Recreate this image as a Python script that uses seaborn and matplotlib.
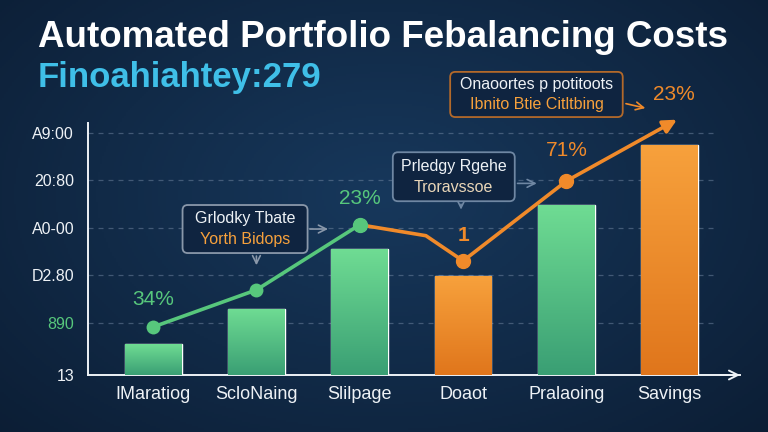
import numpy as np
import matplotlib
matplotlib.use("Agg")
import matplotlib.pyplot as plt
import seaborn as sns
from matplotlib.colors import LinearSegmentedColormap, to_rgb
from matplotlib.patches import FancyBboxPatch

# ---------------- data ----------------
categories = ["IMaratiog", "ScloNaing", "Slilpage", "Doaot", "Pralaoing", "Savings"]
bar_values = [0.65, 1.39, 2.65, 2.08, 3.58, 4.84]
bar_kinds = ["g", "g", "g", "o", "g", "o"]

green_x = [0, 1, 2]
green_y = [1.01, 1.79, 3.16]
orange_x = [2, 2.64, 3, 4]
orange_y = [3.16, 2.93, 2.40, 4.08]
arrow_end = (5.07, 5.37)

point_labels = ["34%", "23%", "1", "71%", "23%"]

ytick_vals = [0, 1.1, 2.1, 3.1, 4.1, 5.1]
ytick_labels = ["13", "890", "D2.80", "A0-00", "20:80", "A9:00"]

title = "Automated Portfolio Febalancing Costs"
subtitle = "Finoahiahtey:279"

box_texts = [("Grlodky Tbate", "Yorth Bidops"),
             ("Prledgy Rgehe", "Troravssoe"),
             ("Onaoortes p potitoots", "Ibnito Btie Citltbing")]

# ---------------- style ----------------
GREEN = "#5cd08a"
GREEN_D = "#3a9f74"
GREEN_L = "#6fdc93"
ORANGE = "#f08a2a"
ORANGE_L = "#f7a13c"
ORANGE_D = "#e0761c"
LINE_G = "#57c77c"
WHITE = "#eef2f6"

sns.set_theme(style="dark")
plt.rcParams["font.family"] = ["Liberation Sans", "DejaVu Sans"]

fig = plt.figure(figsize=(7.68, 4.32), dpi=100)

# background gradient
bg = fig.add_axes([0, 0, 1, 1], zorder=0)
yy, xx = np.mgrid[0:1:216j, 0:1:384j]
r = np.sqrt(((xx - 0.5) / 0.75) ** 2 + ((yy - 0.45) / 0.85) ** 2)
r = np.clip(r, 0, 1)
c_in = np.array(to_rgb("#17385c"))
c_out = np.array(to_rgb("#0b1c32"))
img = c_in[None, None, :] * (1 - r[..., None]) + c_out[None, None, :] * r[..., None]
bg.imshow(img, extent=[0, 1, 0, 1], aspect="auto", origin="upper")
bg.set_axis_off()

ax = fig.add_axes([88 / 768, 57 / 432, 652 / 768, 252 / 432], zorder=1)
ax.set_facecolor("none")

colors = [GREEN if k == "g" else ORANGE for k in bar_kinds]
sns.barplot(x=categories, y=bar_values, hue=categories, palette=colors,
            legend=False, width=0.55, ax=ax, saturation=1, zorder=3)

# gradient fill of bars
for patch, k in zip(ax.patches, bar_kinds):
    x0, y0 = patch.get_x(), patch.get_y()
    w, h = patch.get_width(), patch.get_height()
    top, bot = (GREEN_L, GREEN_D) if k == "g" else (ORANGE_L, ORANGE_D)
    cmap = LinearSegmentedColormap.from_list("g", [bot, top])
    grad = np.linspace(0, 1, 100).reshape(-1, 1)
    im = ax.imshow(grad, cmap=cmap, extent=[x0, x0 + w, y0, y0 + h],
                   origin="lower", aspect="auto", zorder=3.5)
    im.set_clip_path(patch)

ax.set_xlim(-0.63, 5.68)
ax.set_ylim(0, 5.3)

# grid lines
for v in ytick_vals[1:]:
    ax.axhline(v, xmin=0, xmax=0.965, color="#7388a3", lw=0.9, alpha=0.5,
               ls=(0, (4, 4)), zorder=1)

# lines
sns.lineplot(x=green_x, y=green_y, color=LINE_G, lw=2.6, marker="o",
             markersize=10, markeredgewidth=0, sort=False, ax=ax, zorder=5)
sns.lineplot(x=orange_x, y=orange_y, color=ORANGE, lw=2.6, sort=False,
             ax=ax, zorder=5)
ax.plot([orange_x[2], orange_x[3]], [orange_y[2], orange_y[3]], "o",
        color=ORANGE, markersize=10, zorder=6)
ax.plot([green_x[2]], [green_y[2]], "o", color=LINE_G, markersize=10, zorder=6)
ax.annotate("", xy=arrow_end, xytext=(orange_x[-1], orange_y[-1]),
            arrowprops=dict(arrowstyle="-|>", color=ORANGE, lw=2.6,
                            mutation_scale=20, shrinkA=0, shrinkB=0),
            zorder=5, annotation_clip=False)

# point labels
lab_pts = [(green_x[0], green_y[0], LINE_G, (0, 20)),
           (green_x[2], green_y[2], LINE_G, (0, 19)),
           (orange_x[2], orange_y[2], ORANGE, (0, 18)),
           (orange_x[3], orange_y[3], ORANGE, (0, 22)),
           (arrow_end[0], arrow_end[1], ORANGE, (-2, 18))]
for (px, py, c, off), t in zip(lab_pts, point_labels):
    ax.annotate(t, xy=(px, py), xytext=off, textcoords="offset points",
                ha="center", va="center", color=c, fontsize=15,
                fontweight="bold" if t == "1" else "normal", zorder=7,
                annotation_clip=False)

# annotation boxes: (center, size in data units, edge colour, text colours)
boxes = [((0.89, 3.07), (1.21, 1.01), "#8a98aa", WHITE, ORANGE_L),
         ((2.91, 4.17), (1.18, 1.03), "#6f87a3", WHITE, "#e9d6b8"),
         ((3.71, 5.90), (1.67, 0.95), "#b3692a", WHITE, ORANGE_L)]
for ((bx, by), (bw, bh), ec, c1, c2), (t1, t2) in zip(boxes, box_texts):
    box = FancyBboxPatch((bx - bw / 2, by - bh / 2), bw, bh,
                         boxstyle="round,pad=0,rounding_size=0.05",
                         fc="#0f2440", ec=ec, lw=1.3, zorder=8,
                         clip_on=False, mutation_aspect=2.2)
    ax.add_patch(box)
    ax.annotate(t1, xy=(bx, by), xytext=(0, 7.5), textcoords="offset points",
                ha="center", va="center", fontsize=11.5, color=c1, zorder=9,
                annotation_clip=False)
    ax.annotate(t2, xy=(bx, by), xytext=(0, -7.5), textcoords="offset points",
                ha="center", va="center", fontsize=11.5, color=c2, zorder=9,
                annotation_clip=False)

arrow_kw = dict(arrowstyle="->", lw=1.2, mutation_scale=14)
ax.annotate("", xy=(1.72, 3.07), xytext=(1.49, 3.07),
            arrowprops=dict(color="#8a98aa", **arrow_kw), annotation_clip=False)
ax.annotate("", xy=(1.0, 2.25), xytext=(1.0, 2.56),
            arrowprops=dict(color="#8a98aa", **arrow_kw), annotation_clip=False)
ax.annotate("", xy=(3.74, 4.03), xytext=(3.50, 4.03),
            arrowprops=dict(color="#6f87a3", **arrow_kw), annotation_clip=False)
ax.annotate("", xy=(2.98, 3.42), xytext=(2.98, 3.65),
            arrowprops=dict(color="#6f87a3", **arrow_kw), annotation_clip=False)
ax.annotate("", xy=(4.79, 5.60), xytext=(4.55, 5.72),
            arrowprops=dict(color=ORANGE, **arrow_kw), annotation_clip=False)

# axes styling
for s in ["top", "right"]:
    ax.spines[s].set_visible(False)
ax.spines["left"].set_color(WHITE)
ax.spines["left"].set_linewidth(1.4)
ax.spines["bottom"].set_color(WHITE)
ax.spines["bottom"].set_linewidth(1.4)
ax.annotate("", xy=(1.0, 0), xytext=(0.97, 0), xycoords="axes fraction",
            arrowprops=dict(arrowstyle="->", color=WHITE, lw=1.4,
                            mutation_scale=16, shrinkA=0, shrinkB=0),
            annotation_clip=False)

ax.set_yticks(ytick_vals)
ax.set_yticklabels(ytick_labels)
ax.tick_params(axis="y", length=0, pad=10, labelsize=11.5, colors=WHITE)
for lbl in ax.get_yticklabels():
    if lbl.get_text() == "890":
        lbl.set_color(LINE_G)
ax.tick_params(axis="x", length=0, pad=8, labelsize=13, colors=WHITE)
ax.set_xlabel("")
ax.set_ylabel("")
ax.grid(False)

fig.text(38 / 768, 1 - 47 / 432, title, color="white", fontsize=26.5,
         fontweight="bold", va="baseline", ha="left")
fig.text(38 / 768, 1 - 87 / 432, subtitle, color="#3fbfe8", fontsize=25,
         fontweight="bold", va="baseline", ha="left")

fig.savefig("out.png", dpi=100, facecolor=fig.get_facecolor())
